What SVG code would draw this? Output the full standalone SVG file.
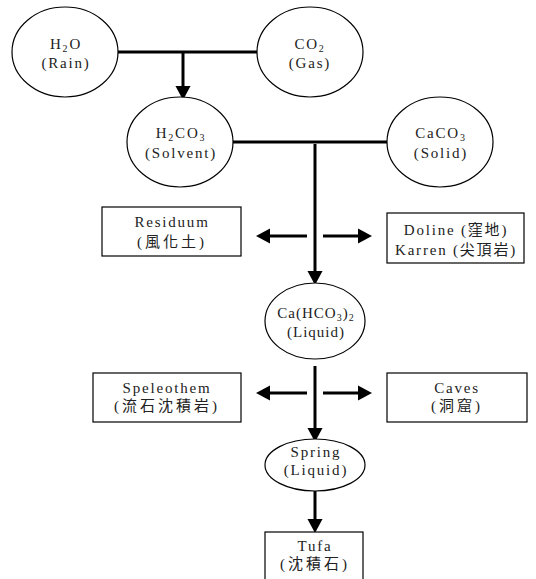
<svg xmlns="http://www.w3.org/2000/svg" width="536" height="579" viewBox="0 0 536 579">
<style>
.n{fill:#fff;stroke:#000;stroke-width:1.2}
.t{font-family:"Liberation Serif","Noto Sans CJK TC",serif;font-size:15px;letter-spacing:1.8px;fill:#222;text-anchor:middle}
.c{stroke:#000;stroke-width:3;fill:none}
.sub{font-size:10px}
.cjk{letter-spacing:3px}
</style>
<defs>
<marker id="ah" markerUnits="userSpaceOnUse" markerWidth="14" markerHeight="16" refX="0" refY="7" orient="auto" viewBox="0 0 13 14">
<path d="M0,0 L13,7 L0,14 Z" fill="#000"/>
</marker>
</defs>
<g id="connectors">
<line class="c" x1="118" y1="52" x2="257" y2="52"/>
<line class="c" x1="183" y1="52" x2="183" y2="86" marker-end="url(#ah)"/>
<line class="c" x1="233" y1="142" x2="387" y2="142"/>
<line class="c" x1="315" y1="144" x2="315" y2="271" marker-end="url(#ah)"/>
<line class="c" x1="307" y1="236" x2="270" y2="236" marker-end="url(#ah)"/>
<line class="c" x1="323" y1="236" x2="358" y2="236" marker-end="url(#ah)"/>
<line class="c" x1="315" y1="366" x2="315" y2="428" marker-end="url(#ah)"/>
<line class="c" x1="307" y1="393" x2="270" y2="393" marker-end="url(#ah)"/>
<line class="c" x1="323" y1="393" x2="358" y2="393" marker-end="url(#ah)"/>
<line class="c" x1="315" y1="491" x2="315" y2="519" marker-end="url(#ah)"/>
</g>
<g id="h2o">
<ellipse class="n" cx="65" cy="52" rx="53" ry="45"/>
<text class="t" x="66" y="49">H<tspan class="sub" dy="3">2</tspan><tspan dy="-3">O</tspan></text>
<text class="t" x="66" y="68">(Rain)</text>
</g>
<g id="co2">
<ellipse class="n" cx="310" cy="52" rx="53" ry="45"/>
<text class="t" x="310" y="49">CO<tspan class="sub" dy="3">2</tspan></text>
<text class="t" x="310" y="68">(Gas)</text>
</g>
<g id="h2co3">
<ellipse class="n" cx="180" cy="142" rx="53" ry="45"/>
<text class="t" x="181" y="138">H<tspan class="sub" dy="3">2</tspan><tspan dy="-3">CO</tspan><tspan class="sub" dy="3">3</tspan></text>
<text class="t" x="181" y="158">(Solvent)</text>
</g>
<g id="caco3">
<ellipse class="n" cx="440" cy="142" rx="53" ry="45"/>
<text class="t" x="441" y="138">CaCO<tspan class="sub" dy="3">3</tspan></text>
<text class="t" x="441" y="158">(Solid)</text>
</g>
<g id="residuum">
<rect class="n" x="102" y="207" width="139" height="49"/>
<text class="t" x="172" y="227">Residuum</text>
<text class="t cjk" x="172" y="247">(風化土)</text>
</g>
<g id="doline">
<rect class="n" x="387" y="213" width="137" height="50"/>
<text class="t" x="456" y="235">Doline (窪地)</text>
<text class="t" x="456" y="255">Karren (尖頂岩)</text>
</g>
<g id="cahco3">
<ellipse class="n" cx="315" cy="321" rx="50" ry="38"/>
<text class="t" x="316" y="318" style="letter-spacing:1px">Ca(HCO<tspan class="sub" dy="3">3</tspan><tspan dy="-3">)</tspan><tspan class="sub" dy="3">2</tspan></text>
<text class="t" x="316" y="337" style="letter-spacing:1px">(Liquid)</text>
</g>
<g id="speleothem">
<rect class="n" x="93" y="373" width="148" height="49"/>
<text class="t" x="167" y="393">Speleothem</text>
<text class="t cjk" x="167" y="411">(流石沈積岩)</text>
</g>
<g id="caves">
<rect class="n" x="387" y="373" width="140" height="49"/>
<text class="t" x="457" y="393">Caves</text>
<text class="t cjk" x="457" y="411">(洞窟)</text>
</g>
<g id="spring">
<ellipse class="n" cx="315" cy="465" rx="50" ry="26"/>
<text class="t" x="316" y="457">Spring</text>
<text class="t" x="316" y="475">(Liquid)</text>
</g>
<g id="tufa">
<rect class="n" x="265" y="532" width="98" height="52"/>
<text class="t" x="315" y="551">Tufa</text>
<text class="t cjk" x="315" y="569">(沈積石)</text>
</g>
</svg>
